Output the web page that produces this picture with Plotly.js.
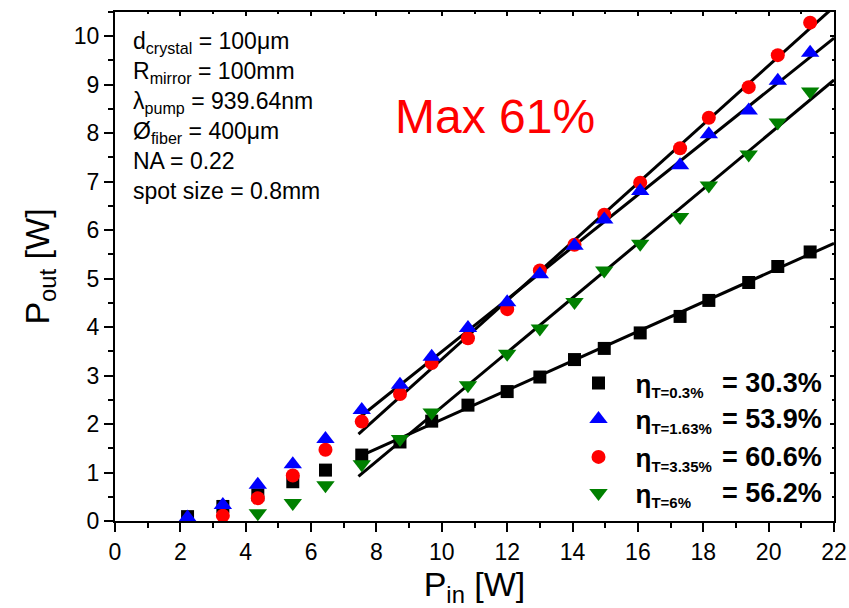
<!DOCTYPE html>
<html>
<head>
<meta charset="utf-8">
<script src="https://cdn.plot.ly/plotly-3.0.1.min.js"></script>
<style>html,body{margin:0;padding:0;background:#fff;}#chart{width:849px;height:608px;}</style>
</head>
<body>
<div id="chart"></div>
<script>
// Pump power [W]
const pumpPower = [2.22, 3.30, 4.37, 5.44, 6.44, 7.55, 8.72, 9.69, 10.80, 12.00, 13.00, 14.06, 14.97, 16.07, 17.29, 18.17, 19.39, 20.28, 21.27];
// Output power [W] for each output-coupler transmission
const outT03  = [0.09, 0.30, 0.54, 0.81, 1.05, 1.36, 1.63, 2.06, 2.39, 2.67, 2.97, 3.33, 3.56, 3.88, 4.22, 4.55, 4.92, 5.25, 5.55];
const outT163 = [0.07, 0.33, 0.75, 1.17, 1.69, 2.29, 2.81, 3.39, 3.98, 4.51, 5.09, 5.68, 6.22, 6.81, 7.34, 7.98, 8.47, 9.08, 9.66];
const pumpT335 = pumpPower.slice(1);
const outT335 = [0.11, 0.47, 0.94, 1.47, 2.05, 2.62, 3.26, 3.77, 4.37, 5.17, 5.70, 6.32, 6.98, 7.69, 8.32, 8.95, 9.61, 10.28];
const pumpT6 = pumpPower.slice(2);
const outT6   = [0.16, 0.37, 0.74, 1.17, 1.69, 2.24, 2.80, 3.45, 3.97, 4.52, 5.17, 5.72, 6.27, 6.92, 7.56, 8.22, 8.86];

// Linear fits (slope = efficiency, intercept)
const fitNames = ['T=0.3%', 'T=1.63%', 'T=3.35%', 'T=6%'];
const fitSlope = [0.303, 0.539, 0.606, 0.562];
const fitIntercept = [-0.937, -1.896, -2.725, -3.267];
const fitRange = [7.45, 22];

const legendLabels = ['η<sub><span style="font-size:15px">T=0.3%</span></sub>',
                      'η<sub><span style="font-size:15px">T=1.63%</span></sub>',
                      'η<sub><span style="font-size:15px">T=3.35%</span></sub>',
                      'η<sub><span style="font-size:15px">T=6%</span></sub>'];
const effLabels = ['= 30.3%', '= 53.9%', '= 60.6%', '= 56.2%'];

const FONT = 'Liberation Sans, Arial, sans-serif';

const traces = [];
// fit lines first (under markers)
for (let i = 0; i < 4; i++) {
  traces.push({
    x: fitRange,
    y: fitRange.map(v => fitSlope[i] * v + fitIntercept[i]),
    mode: 'lines', line: {color: '#000', width: 3},
    showlegend: false, hoverinfo: 'skip'
  });
}
traces.push({x: pumpPower, y: outT03, mode: 'markers', name: legendLabels[0], legend: 'legend',
  marker: {symbol: 'square', size: 13, color: '#000'}});
traces.push({x: pumpT335, y: outT335, mode: 'markers', name: legendLabels[2], legend: 'legend3',
  marker: {symbol: 'circle', size: 14, color: '#ff0000'}});
traces.push({x: pumpPower, y: outT163, mode: 'markers', name: legendLabels[1], legend: 'legend2',
  marker: {symbol: 'triangle-up', size: 16, color: '#0000ff'}});
traces.push({x: pumpT6, y: outT6, mode: 'markers', name: legendLabels[3], legend: 'legend4',
  marker: {symbol: 'triangle-down', size: 16, color: '#008000'}});
// dummy trace for inner mirror ticks
traces.push({x: [null], y: [null], xaxis: 'x2', yaxis: 'y2', mode: 'markers', showlegend: false, hoverinfo: 'skip'});

const rowY = [383, 419, 457, 493];
const H = 608, T = 12, B = 87;
const toPaperY = py => (H - B - py) / (H - T - B);

function mkLegend(py) {
  return {x: 0.621, xanchor: 'left', y: toPaperY(py), yanchor: 'middle',
    bgcolor: 'rgba(0,0,0,0)', borderwidth: 0,
    font: {family: FONT, size: 26, color: '#000', weight: 'bold'}, itemwidth: 64};
}

const annotations = [
  {xref: 'x', yref: 'y', x: 0.5, y: 10.22, xanchor: 'left', yanchor: 'top', align: 'left', showarrow: false,
   font: {family: FONT, size: 23, color: '#000'},
   text: 'd<sub>crystal</sub> = 100μm<br>R<sub>mirror</sub> = 100mm<br>λ<sub>pump</sub> = 939.64nm<br>Ø<sub>fiber</sub> = 400μm<br>NA = 0.22<br>spot size = 0.8mm'},
  {xref: 'x', yref: 'y', x: 8.5, y: 8.34, xanchor: 'left', yanchor: 'middle', showarrow: false,
   font: {family: FONT, size: 48, color: '#ff0000'}, text: 'Max 61%'}
];
for (let i = 0; i < 4; i++) {
  annotations.push({xref: 'paper', yref: 'paper', x: (720 - 115) / 719, y: toPaperY(rowY[i]),
    xanchor: 'left', yanchor: 'middle', showarrow: false,
    font: {family: FONT, size: 27, color: '#000', weight: 'bold'}, text: effLabels[i]});
}

const layout = {
  width: 849, height: 608,
  margin: {l: 115, r: 15, t: T, b: B},
  paper_bgcolor: '#fff', plot_bgcolor: '#fff',
  font: {family: FONT, color: '#000'},
  xaxis: {range: [0, 22], dtick: 2, tick0: 0, ticks: 'outside', ticklen: 9, tickwidth: 2, tickcolor: '#000',
    minor: {dtick: 1, ticks: 'outside', ticklen: 5, tickwidth: 2, tickcolor: '#000'},
    showline: true, linewidth: 2, linecolor: '#000', mirror: true, showgrid: false, zeroline: false,
    tickfont: {family: FONT, size: 23, color: '#000'},
    title: {text: 'P<sub>in</sub> [W]', font: {family: FONT, size: 34, color: '#000'}, standoff: 6}},
  yaxis: {range: [0, 10.5], dtick: 1, tick0: 0, ticks: 'outside', ticklen: 9, tickwidth: 2, tickcolor: '#000',
    minor: {dtick: 0.5, ticks: 'outside', ticklen: 5, tickwidth: 2, tickcolor: '#000'},
    showline: true, linewidth: 2, linecolor: '#000', mirror: true, showgrid: false, zeroline: false,
    tickfont: {family: FONT, size: 23, color: '#000'},
    title: {text: 'P<sub>out</sub> [W]', font: {family: FONT, size: 34, color: '#000'}, standoff: 14}},
  xaxis2: {overlaying: 'x', side: 'top', anchor: 'y2', range: [0, 22], dtick: 2, tick0: 0, ticks: 'inside', ticklen: 4, tickwidth: 2, tickcolor: '#000',
    minor: {dtick: 1, ticks: 'inside', ticklen: 2, tickwidth: 2, tickcolor: '#000'},
    showticklabels: false, showline: false, showgrid: false, zeroline: false},
  yaxis2: {overlaying: 'y', side: 'right', anchor: 'x2', range: [0, 10.5], dtick: 1, tick0: 0, ticks: 'inside', ticklen: 4, tickwidth: 2, tickcolor: '#000',
    minor: {dtick: 0.5, ticks: 'inside', ticklen: 2, tickwidth: 2, tickcolor: '#000'},
    showticklabels: false, showline: false, showgrid: false, zeroline: false},
  legend: mkLegend(rowY[0]),
  legend2: mkLegend(rowY[1]),
  legend3: mkLegend(rowY[2]),
  legend4: mkLegend(rowY[3]),
  annotations: annotations
};

Plotly.newPlot('chart', traces, layout, {displayModeBar: false, staticPlot: true});
</script>
</body>
</html>
